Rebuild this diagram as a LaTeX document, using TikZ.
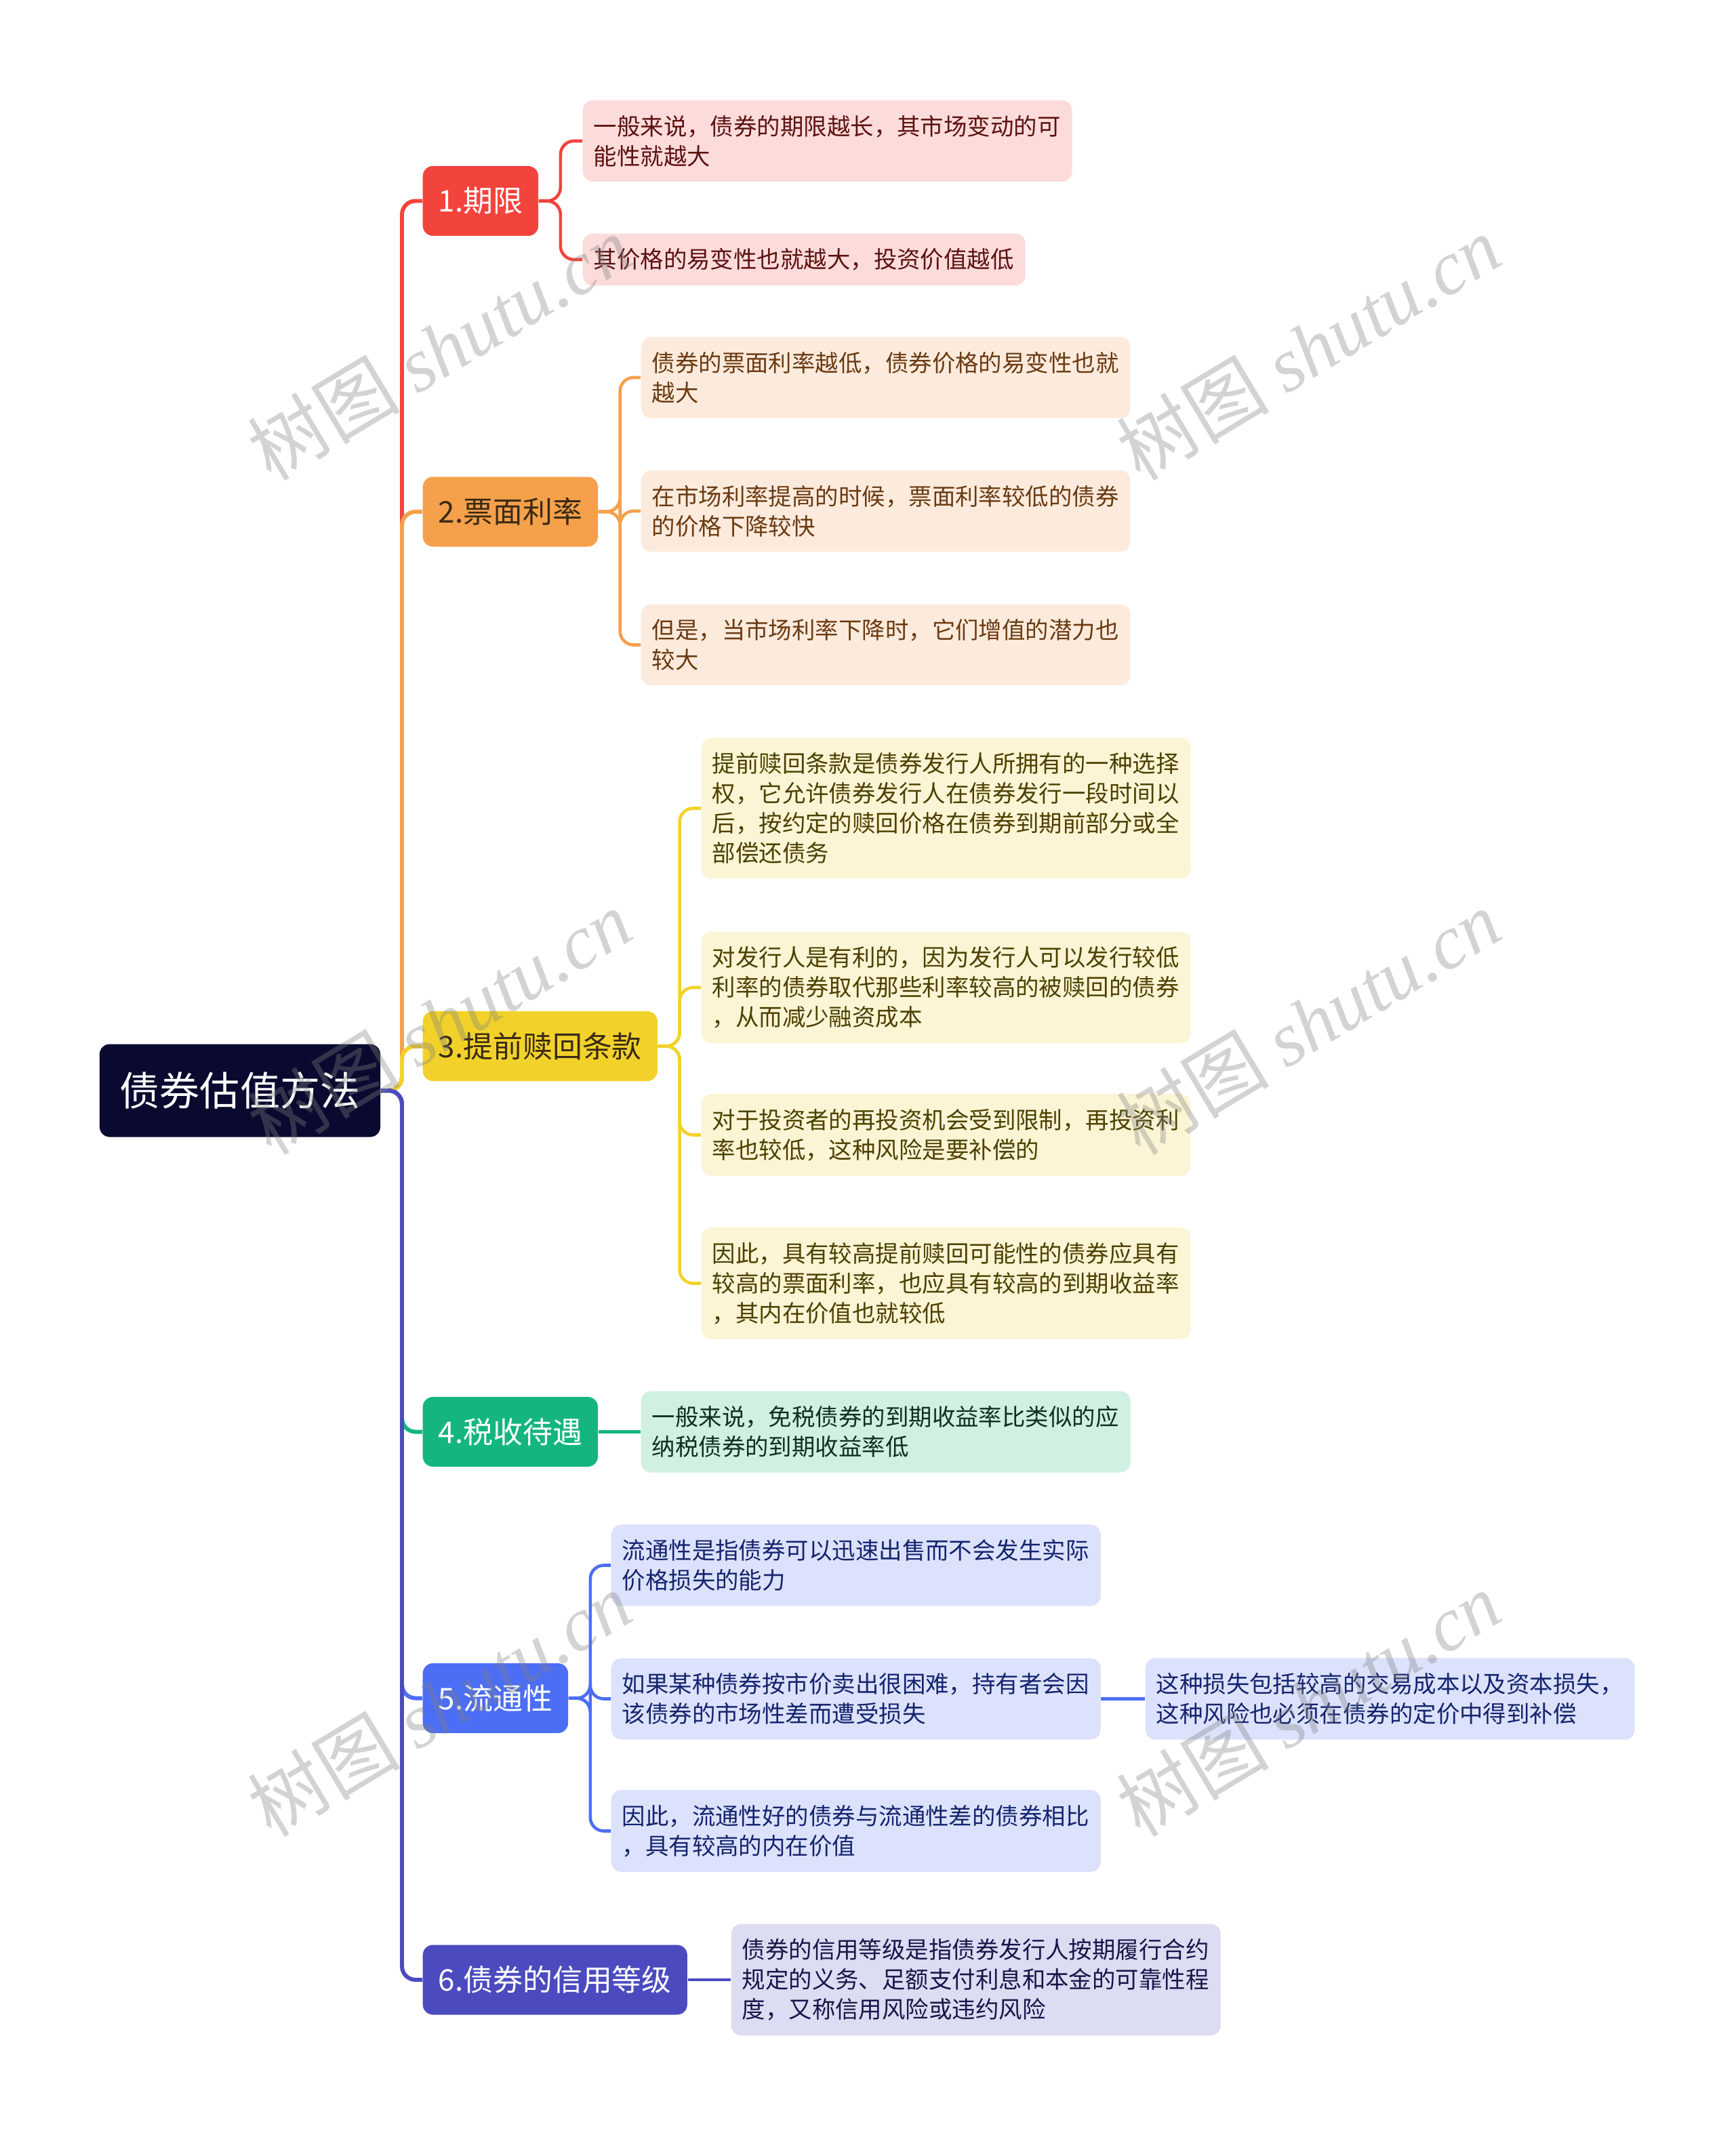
\documentclass[tikz,border=0pt]{standalone}
\usepackage{fontspec}
\setmainfont{Noto Sans CJK SC}
\newfontfamily\wmfont{Liberation Serif}
\definecolor{rootbg}{HTML}{0A0A30}
\definecolor{cred}{HTML}{F2443D}
\definecolor{corange}{HTML}{F5A04B}
\definecolor{cyellow}{HTML}{F2D22A}
\definecolor{cgreen}{HTML}{14B67D}
\definecolor{cblue}{HTML}{4C6EF5}
\definecolor{cindigo}{HTML}{4B4BBF}
\definecolor{fred}{HTML}{FCDCDB}
\definecolor{forange}{HTML}{FCEBDC}
\definecolor{fyellow}{HTML}{FCF5D5}
\definecolor{fgreen}{HTML}{D0F0E2}
\definecolor{fblue}{HTML}{DCE2FB}
\definecolor{findigo}{HTML}{DCDCF2}
\definecolor{tred}{HTML}{5C1210}
\definecolor{torange}{HTML}{6B3A12}
\definecolor{tyellow}{HTML}{4D4000}
\definecolor{tgreen}{HTML}{0F2F20}
\definecolor{tblue}{HTML}{14246E}
\definecolor{tindigo}{HTML}{16164A}
\definecolor{tdark}{HTML}{3A2A14}
\usetikzlibrary{positioning}

\begin{document}
\begin{tikzpicture}[
    root/.style={rectangle, rounded corners=1.5mm, fill=rootbg, text=white,
                 minimum height=13.7mm, inner xsep=3mm,
                 font=\fontsize{16.8}{20}\selectfont},
    branch/.style={rectangle, rounded corners=1.5mm, minimum height=10.3mm,
                   inner xsep=2.3mm, anchor=west,
                   font=\fontsize{12.5}{15}\selectfont},
    leaf/.style={rectangle, rounded corners=1.5mm, text width=6.9cm, align=left,
                 inner xsep=1.6mm, inner ysep=2.2mm, anchor=west,
                 font=\fontsize{9.8}{12.5}\selectfont},
    trunk/.style={line width=1.7pt, rounded corners=2mm},
    twig/.style={line width=1.3pt, rounded corners=2mm},
    wm/.style={rotate=31, text=gray, opacity=0.35,
               font=\fontsize{32}{34}\selectfont}
  ]
  \useasboundingbox (0,0) rectangle (25.6,-31.53);

  \node[root] (root) at (3.54,-16.09) {债券估值方法};
  \coordinate (tk) at (5.93,-16.09);

  \node[branch, fill=cred, text=white] (b1) at (6.23,-2.965) {1.期限};
  \node[branch, fill=corange, text=tdark] (b2) at (6.23,-7.55) {2.票面利率};
  \node[branch, fill=cyellow, text=tdark] (b3) at (6.23,-15.435) {3.提前赎回条款};
  \node[branch, fill=cgreen, text=white] (b4) at (6.23,-21.125) {4.税收待遇};
  \node[branch, fill=cblue, text=white] (b5) at (6.23,-25.055) {5.流通性};
  \node[branch, fill=cindigo, text=white] (b6) at (6.23,-29.21) {6.债券的信用等级};

  % leaves
  \node[leaf, fill=fred, text=tred] (l1a) at (8.59,-2.08)
    {一般来说，债券的期限越长，其市场变动的可\\能性就越大};
  \node[leaf, fill=fred, text=tred, text width=6.21cm] (l1b) at (8.59,-3.83)
    {其价格的易变性也就越大，投资价值越低};

  \node[leaf, fill=forange, text=torange] (l2a) at (9.45,-5.57)
    {债券的票面利率越低，债券价格的易变性也就\\越大};
  \node[leaf, fill=forange, text=torange] (l2b) at (9.45,-7.54)
    {在市场利率提高的时候，票面利率较低的债券\\的价格下降较快};
  \node[leaf, fill=forange, text=torange] (l2c) at (9.45,-9.515)
    {但是，当市场利率下降时，它们增值的潜力也\\较大};

  \node[leaf, fill=fyellow, text=tyellow] (l3a) at (10.34,-11.925)
    {提前赎回条款是债券发行人所拥有的一种选择\\权，它允许债券发行人在债券发行一段时间以\\后，按约定的赎回价格在债券到期前部分或全\\部偿还债务};
  \node[leaf, fill=fyellow, text=tyellow] (l3b) at (10.34,-14.57)
    {对发行人是有利的，因为发行人可以发行较低\\利率的债券取代那些利率较高的被赎回的债券\\，从而减少融资成本};
  \node[leaf, fill=fyellow, text=tyellow] (l3c) at (10.34,-16.745)
    {对于投资者的再投资机会受到限制，再投资利\\率也较低，这种风险是要补偿的};
  \node[leaf, fill=fyellow, text=tyellow] (l3d) at (10.34,-18.935)
    {因此，具有较高提前赎回可能性的债券应具有\\较高的票面利率，也应具有较高的到期收益率\\，其内在价值也就较低};

  \node[leaf, fill=fgreen, text=tgreen] (l4a) at (9.45,-21.125)
    {一般来说，免税债券的到期收益率比类似的应\\纳税债券的到期收益率低};

  \node[leaf, fill=fblue, text=tblue] (l5a) at (9.01,-23.095)
    {流通性是指债券可以迅速出售而不会发生实际\\价格损失的能力};
  \node[leaf, fill=fblue, text=tblue] (l5b) at (9.01,-25.065)
    {如果某种债券按市价卖出很困难，持有者会因\\该债券的市场性差而遭受损失};
  \node[leaf, fill=fblue, text=tblue] (l5c) at (9.01,-27.015)
    {因此，流通性好的债券与流通性差的债券相比\\，具有较高的内在价值};
  \node[leaf, fill=fblue, text=tblue] (l5b1) at (16.89,-25.065)
    {这种损失包括较高的交易成本以及资本损失，\\这种风险也必须在债券的定价中得到补偿};

  \node[leaf, fill=findigo, text=tindigo] (l6a) at (10.78,-29.21)
    {债券的信用等级是指债券发行人按期履行合约\\规定的义务、足额支付利息和本金的可靠性程\\度，又称信用风险或违约风险};

  % root to branches
  \draw[trunk, cred] (root.east) -- (tk) |- (b1.west);
  \draw[trunk, corange] (root.east) -- (tk) |- (b2.west);
  \draw[trunk, cyellow] (root.east) -- (tk) |- (b3.west);
  \draw[trunk, cgreen] (root.east) -- (tk) |- (b4.west);
  \draw[trunk, cblue] (root.east) -- (tk) |- (b5.west);
  \draw[trunk, cindigo] (root.east) -- (tk) |- (b6.west);

  % branches to leaves
  \draw[twig, cred] (b1.east) -- ++(3.2mm,0) |- (l1a.west);
  \draw[twig, cred] (b1.east) -- ++(3.2mm,0) |- (l1b.west);
  \draw[twig, corange] (b2.east) -- ++(3.2mm,0) |- (l2a.west);
  \draw[twig, corange] (b2.east) -- ++(3.2mm,0) |- (l2b.west);
  \draw[twig, corange] (b2.east) -- ++(3.2mm,0) |- (l2c.west);
  \draw[twig, cyellow] (b3.east) -- ++(3.2mm,0) |- (l3a.west);
  \draw[twig, cyellow] (b3.east) -- ++(3.2mm,0) |- (l3b.west);
  \draw[twig, cyellow] (b3.east) -- ++(3.2mm,0) |- (l3c.west);
  \draw[twig, cyellow] (b3.east) -- ++(3.2mm,0) |- (l3d.west);
  \draw[twig, cgreen] (b4.east) -- (l4a.west);
  \draw[twig, cblue] (b5.east) -- ++(3.2mm,0) |- (l5a.west);
  \draw[twig, cblue] (b5.east) -- ++(3.2mm,0) |- (l5b.west);
  \draw[twig, cblue] (b5.east) -- ++(3.2mm,0) |- (l5c.west);
  \draw[twig, cblue] (l5b.east) -- (l5b1.west);
  \draw[twig, cindigo] (b6.east) -- (l6a.west);

  % watermarks
  \node[wm] (wm1) at (6.48,-5.13) {树图 {\wmfont\itshape shutu.cn}};
  \node[wm] (wm2) at (19.3,-5.13) {树图 {\wmfont\itshape shutu.cn}};
  \node[wm] (wm3) at (6.48,-15.08) {树图 {\wmfont\itshape shutu.cn}};
  \node[wm] (wm4) at (19.3,-15.08) {树图 {\wmfont\itshape shutu.cn}};
  \node[wm] (wm5) at (6.48,-25.14) {树图 {\wmfont\itshape shutu.cn}};
  \node[wm] (wm6) at (19.3,-25.14) {树图 {\wmfont\itshape shutu.cn}};
\end{tikzpicture}
\end{document}
